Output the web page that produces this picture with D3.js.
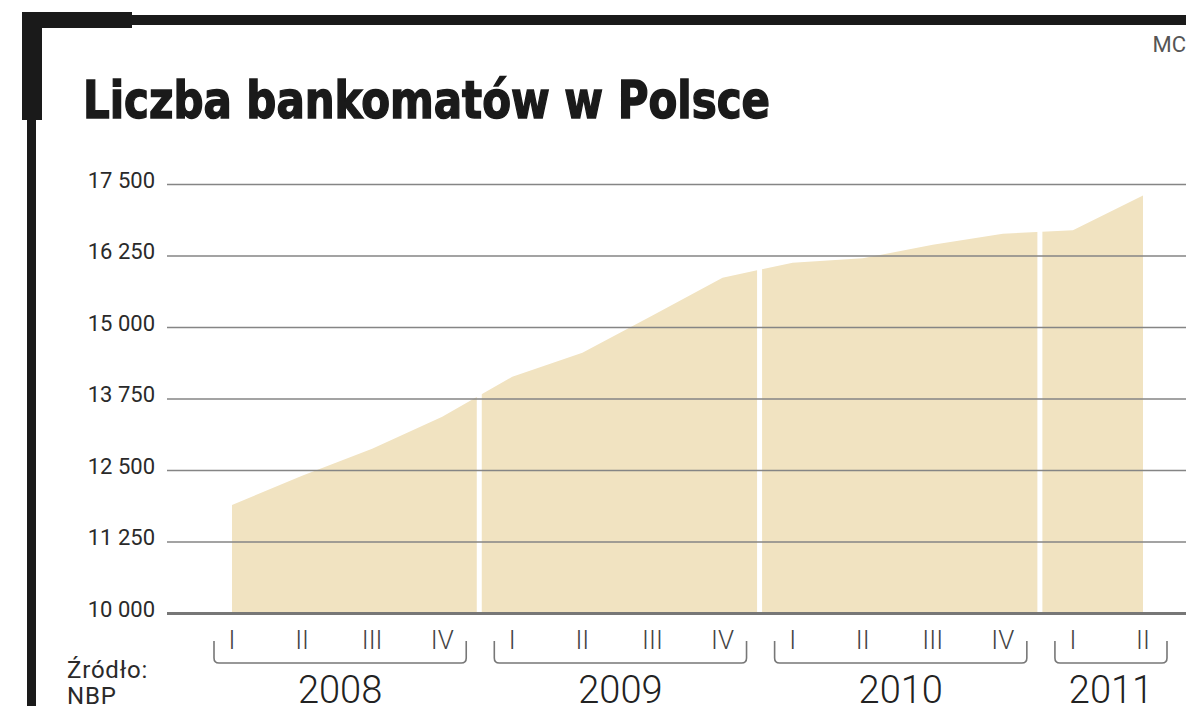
<!DOCTYPE html>
<html>
<head>
<meta charset="utf-8">
<script src="https://cdn.jsdelivr.net/npm/d3@7"></script>
<style>
  html, body { margin: 0; padding: 0; background: #fff; }
  svg { display: block; }
</style>
</head>
<body>
<div id="chart"></div>
<script>
// Liczba bankomatów w Polsce, kwartalnie (NBP)
const quarters = ["I", "II", "III", "IV", "I", "II", "III", "IV", "I", "II", "III", "IV", "I", "II"];
const quarterYears = ["2008", "2008", "2008", "2008", "2009", "2009", "2009", "2009", "2010", "2010", "2010", "2010", "2011", "2011"];
const years = ["2008", "2009", "2010", "2011"];
const atmCount = [11890, 12400, 12870, 13430, 14130, 14550, 15200, 15860, 16125, 16200, 16440, 16630, 16690, 17300];
const yTicks = [10000, 11250, 12500, 13750, 15000, 16250, 17500];

const width = 1200;
const height = 714;
const fontFamily = "Roboto, 'Open Sans', 'Liberation Sans', sans-serif";

const svg = d3.select("#chart")
  .append("svg")
  .attr("width", width)
  .attr("height", height);

const x = d3.scaleLinear()
  .domain([0, atmCount.length - 1])
  .range([232, 1143]);

const y = d3.scaleLinear()
  .domain([10000, 17500])
  .range([613, 184]);

const gridLeft = 167;
const gridRight = 1186;

// frame
const frame = svg.append("g").attr("fill", "#1a1a1a");
frame.append("rect").attr("x", 22).attr("y", 12).attr("width", 20).attr("height", 108);
frame.append("rect").attr("x", 22).attr("y", 12).attr("width", 110).attr("height", 16);
frame.append("rect").attr("x", 130).attr("y", 15).attr("width", gridRight - 130).attr("height", 10);
frame.append("rect").attr("x", 27).attr("y", 118).attr("width", 9).attr("height", 588);

svg.append("text")
  .attr("x", gridRight)
  .attr("y", 52)
  .attr("text-anchor", "end")
  .attr("font-family", fontFamily)
  .attr("font-size", 22)
  .attr("fill", "#555")
  .text("MC");

svg.append("text")
  .attr("x", 83)
  .attr("y", 118)
  .attr("font-family", "'Liberation Sans Narrow', 'DejaVu Sans Condensed', 'Roboto Condensed', 'Liberation Sans', sans-serif")
  .attr("font-weight", "bold")
  .attr("font-size", 52)
  .attr("fill", "#1a1a1a")
  .attr("stroke", "#1a1a1a")
  .attr("stroke-width", 1.4)
  .attr("textLength", 687)
  .attr("lengthAdjust", "spacingAndGlyphs")
  .text("Liczba bankomatów w Polsce");

// area
const area = d3.area()
  .x((d, i) => x(i))
  .y0(y(10000))
  .y1(d => y(d));

svg.append("path")
  .datum(atmCount)
  .attr("fill", "#f1e3c1")
  .attr("d", area);

// white separators between years
const yearBreaks = d3.range(1, quarterYears.length).filter(i => quarterYears[i] !== quarterYears[i - 1]);

svg.append("g")
  .selectAll("line")
  .data(yearBreaks)
  .join("line")
  .attr("x1", i => x(i - 0.5) + 2)
  .attr("x2", i => x(i - 0.5) + 2)
  .attr("y1", y(10000))
  .attr("y2", 150)
  .attr("stroke", "#fff")
  .attr("stroke-width", 5);

// y axis with gridlines
const fmt = d3.formatLocale({ decimal: ",", thousands: " ", grouping: [3], currency: ["", ""] }).format(",");

const yAxis = svg.append("g")
  .attr("transform", `translate(${gridLeft},0)`)
  .call(d3.axisLeft(y)
    .tickValues(yTicks)
    .tickSize(-(gridRight - gridLeft))
    .tickPadding(12)
    .tickFormat(fmt));

yAxis.select(".domain").remove();
yAxis.selectAll(".tick line")
  .attr("stroke", d => d === 10000 ? "#777" : "#858585")
  .attr("stroke-width", d => d === 10000 ? 3 : 1.6);
yAxis.selectAll(".tick text")
  .attr("font-family", fontFamily)
  .attr("font-size", 22)
  .attr("fill", "#2a2a2a")
  .attr("dy", "0.15em");

// quarter labels
svg.append("g")
  .selectAll("text")
  .data(quarters)
  .join("text")
  .attr("x", (d, i) => x(i))
  .attr("y", 649)
  .attr("text-anchor", "middle")
  .attr("font-family", fontFamily)
  .attr("font-weight", 300)
  .attr("font-size", 26)
  .attr("fill", "#444")
  .text(d => d);

// year brackets
const yearSpans = years.map(yr => {
  const idx = quarterYears.map((q, i) => q === yr ? i : -1).filter(i => i >= 0);
  return { year: yr, left: x(d3.min(idx)) - 18, right: x(d3.max(idx)) + 24 };
});

const r = 5;
const bTop = 641;
const bBottom = 663;

svg.append("g")
  .selectAll("path")
  .data(yearSpans)
  .join("path")
  .attr("fill", "none")
  .attr("stroke", "#777")
  .attr("stroke-width", 1.6)
  .attr("d", d => `M${d.left},${bTop}V${bBottom - r}Q${d.left},${bBottom} ${d.left + r},${bBottom}` +
    `H${d.right - r}Q${d.right},${bBottom} ${d.right},${bBottom - r}V${bTop}`);

svg.append("g")
  .selectAll("text")
  .data(yearSpans)
  .join("text")
  .attr("x", d => (d.left + d.right) / 2)
  .attr("y", 703)
  .attr("text-anchor", "middle")
  .attr("font-family", fontFamily)
  .attr("font-weight", 300)
  .attr("font-size", 38)
  .attr("fill", "#222")
  .text(d => d.year);

// source
const src = svg.append("text")
  .attr("font-family", fontFamily)
  .attr("font-size", 24)
  .attr("letter-spacing", 0.8)
  .attr("fill", "#2a2a2a");
src.append("tspan").attr("x", 67).attr("y", 678).text("Źródło:");
src.append("tspan").attr("x", 67).attr("y", 704).text("NBP");
</script>
</body>
</html>
